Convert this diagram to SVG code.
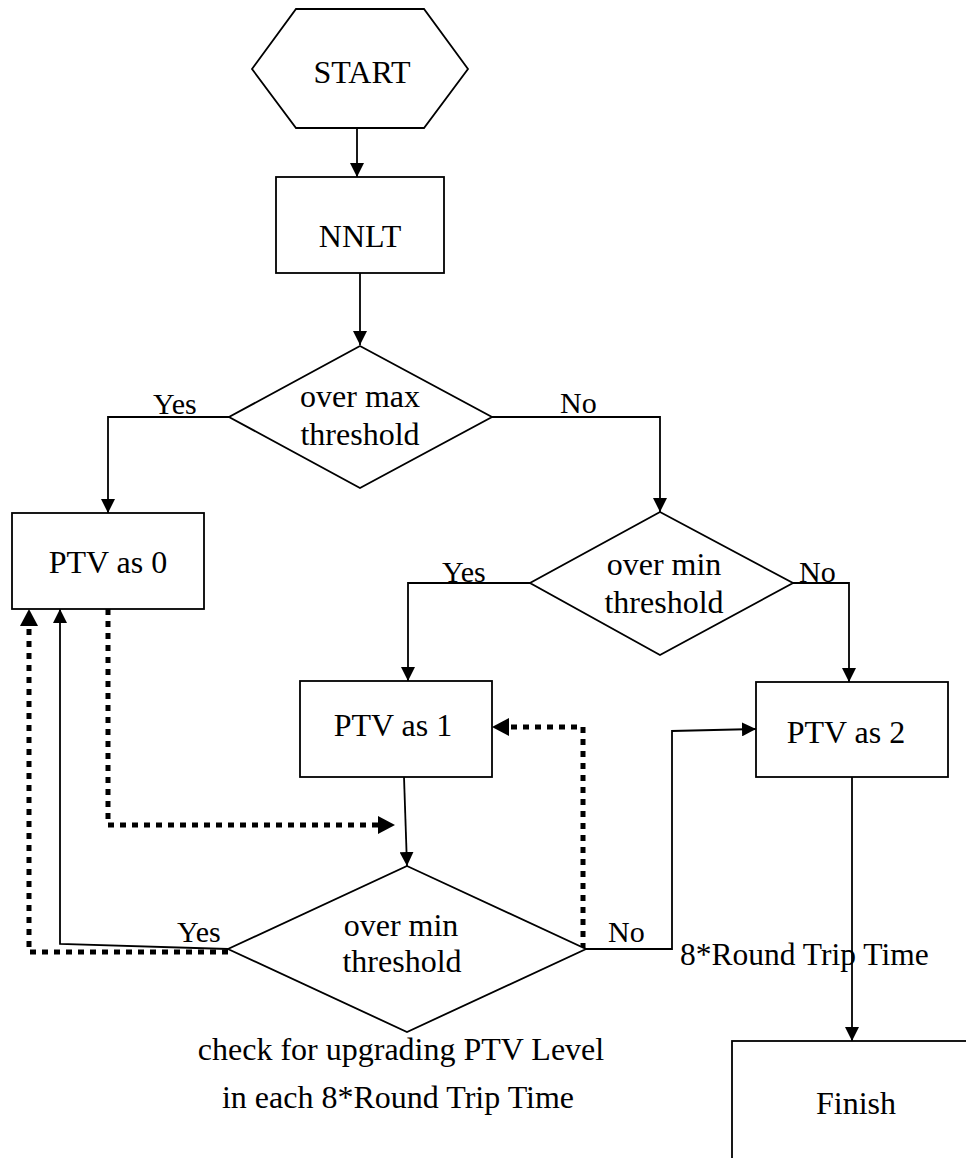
<svg xmlns="http://www.w3.org/2000/svg" width="966" height="1158" viewBox="0 0 966 1158">
<style>
.n{fill:#fff;stroke:#000;stroke-width:1.8}
.t{font-family:"Liberation Serif","Times New Roman",serif;font-size:32px;fill:#000;text-anchor:middle}
.l{font-family:"Liberation Serif","Times New Roman",serif;font-size:30px;fill:#000}
.c{fill:none;stroke:#000;stroke-width:1.8}
.d{fill:none;stroke:#000;stroke-width:5;stroke-dasharray:6 6}
</style>
<defs>
<marker id="a" markerUnits="userSpaceOnUse" markerWidth="14" markerHeight="14" viewBox="0 0 14 14" refX="14" refY="7" orient="auto">
<path d="M0,0 L14,7 L0,14 z" fill="#000"/>
</marker>
<marker id="b" markerUnits="userSpaceOnUse" markerWidth="17" markerHeight="18" viewBox="0 0 17 18" refX="0" refY="9" orient="auto">
<path d="M0,0 L17,9 L0,18 z" fill="#000"/>
</marker>
</defs>
<rect width="966" height="1158" fill="#fff"/>
<g id="connectors">
<path class="c" d="M357,129 V177" marker-end="url(#a)"/>
<path class="c" d="M360,273 V345" marker-end="url(#a)"/>
<path class="c" d="M229,417 H108 V513" marker-end="url(#a)"/>
<path class="c" d="M492,417 H660 V512" marker-end="url(#a)"/>
<path class="c" d="M530,583 H408 V681" marker-end="url(#a)"/>
<path class="c" d="M793,583 H849 V682" marker-end="url(#a)"/>
<path class="c" d="M404,777 L407,866" marker-end="url(#a)"/>
<path class="c" d="M586,949 H672 V731 L756,729" marker-end="url(#a)"/>
<path class="c" d="M852,777 V1041" marker-end="url(#a)"/>
<path class="c" d="M228,949 L60,944 V609" marker-end="url(#a)"/>
<path class="d" d="M228,952 H29 V626" marker-end="url(#b)"/>
<path class="d" d="M108,609 V825 H378" marker-end="url(#b)"/>
<path class="d" d="M583,949 V727 H509" marker-end="url(#b)"/>
<text class="l" x="153" y="414">Yes</text>
<text class="l" x="560" y="413">No</text>
<text class="l" x="442" y="582">Yes</text>
<text class="l" x="799" y="582">No</text>
<text class="l" x="177" y="942">Yes</text>
<text class="l" x="608" y="942">No</text>
<text class="l" x="680" y="965" style="font-size:31.5px">8*Round Trip Time</text>
</g>
<g id="start">
<polygon class="n" points="252,69 296,9 424,9 468,69 424,128 296,128"/>
<text class="t" x="362" y="83">START</text>
</g>
<g id="nnlt">
<rect class="n" x="276" y="177" width="168" height="96"/>
<text class="t" x="360" y="247">NNLT</text>
</g>
<g id="over-max">
<polygon class="n" points="360,346 492,417 360,488 229,417"/>
<text class="t" x="360" y="407">over max</text>
<text class="t" x="360" y="445">threshold</text>
</g>
<g id="ptv0">
<rect class="n" x="12" y="513" width="192" height="96"/>
<text class="t" x="108" y="573">PTV as 0</text>
</g>
<g id="over-min-1">
<polygon class="n" points="660,512 793,583 660,655 530,583"/>
<text class="t" x="664" y="575">over min</text>
<text class="t" x="664" y="613">threshold</text>
</g>
<g id="ptv1">
<rect class="n" x="300" y="681" width="192" height="96"/>
<text class="t" x="393" y="736">PTV as 1</text>
</g>
<g id="ptv2">
<rect class="n" x="756" y="682" width="192" height="95"/>
<text class="t" x="846" y="743">PTV as 2</text>
</g>
<g id="over-min-2">
<polygon class="n" points="407,866 586,949 407,1032 228,949"/>
<text class="t" x="401" y="936">over min</text>
<text class="t" x="402" y="972">threshold</text>
<text class="t" x="401" y="1060">check for upgrading PTV Level</text>
<text class="t" x="398" y="1108">in each 8*Round Trip Time</text>
</g>
<g id="finish">
<rect class="n" x="732" y="1041" width="300" height="200"/>
<text class="t" x="856" y="1114">Finish</text>
</g>
</svg>
